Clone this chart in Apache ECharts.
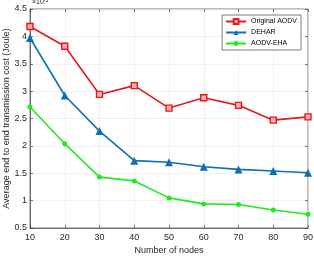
<!DOCTYPE html>
<html>
<head>
<meta charset="utf-8">
<script src="https://cdn.jsdelivr.net/npm/echarts@6/dist/echarts.min.js"></script>
<style>
  html, body { margin: 0; padding: 0; background: #fff; }
  #main { width: 314px; height: 257px; }
</style>
</head>
<body>
<div id="main"></div>
<script>
// data (y in units of 1e-3 Joule)
var nodes = [10, 20, 30, 40, 50, 60, 70, 80, 90];
var aodv = [4.18, 3.82, 2.94, 3.10, 2.69, 2.88, 2.74, 2.47, 2.53];
var dehar = [3.97, 2.92, 2.27, 1.73, 1.70, 1.62, 1.57, 1.54, 1.51];
var eha = [2.71, 2.04, 1.43, 1.36, 1.05, 0.94, 0.93, 0.83, 0.75];
var yTicks = [0.5, 1, 1.5, 2, 2.5, 3, 3.5, 4, 4.5];

var chart = echarts.init(document.getElementById('main'));

function pairs(arr) {
  return arr.map(function (v, i) { return [nodes[i], v]; });
}

var txt = '#262626';
var font = 'Liberation Sans';

var option = {
  backgroundColor: '#ffffff',
  animation: false,
  textStyle: { fontFamily: font },
  grid: {
    left: 30, right: 6, top: 9, bottom: 29, show: true,
    borderColor: txt, borderWidth: 0.6, outerBoundsMode: 'none', containLabel: false
  },
  graphic: [{
    type: 'text', left: 32, top: -2,
    style: {
      text: '{a|×10}{b|-3}',
      rich: {
        a: { fontSize: 7, fill: txt, fontFamily: font },
        b: { fontSize: 5, fill: txt, fontFamily: font, verticalAlign: 'top', padding: [0, 0, 4, 0] }
      }
    }
  }],
  legend: {
    right: 13, top: 15, orient: 'vertical',
    itemWidth: 20, itemHeight: 6, itemGap: 4,
    backgroundColor: '#fff', borderColor: txt, borderWidth: 0.6,
    padding: [3, 4, 3, 3],
    textStyle: { fontSize: 7, color: '#000', fontFamily: font },
    data: ['Original AODV', 'DEHAR', 'AODV-EHA']
  },
  xAxis: [{
    type: 'value', min: 10, max: 90, interval: 10,
    name: 'Number of nodes', nameLocation: 'middle', nameGap: 18, nameMoveOverlap: false,
    nameTextStyle: { fontSize: 9, color: txt },
    axisLine: { lineStyle: { color: txt, width: 0.6 } },
    axisTick: { inside: true, length: 3, lineStyle: { color: txt, width: 0.6 } },
    axisLabel: { fontSize: 9, color: txt, margin: 5 },
    splitLine: { show: true, lineStyle: { color: '#e6e6e6', width: 0.6 } }
  }, {
    type: 'value', position: 'top', min: 10, max: 90, interval: 10,
    axisLine: { show: false },
    axisTick: { inside: true, length: 3, lineStyle: { color: txt, width: 0.6 } },
    axisLabel: { show: false }, splitLine: { show: false }
  }],
  yAxis: [{
    type: 'value', min: 0.5, max: 4.5, interval: 0.5,
    name: 'Average end to end transmission cost (Joule)', nameLocation: 'middle',
    nameGap: 19, nameMoveOverlap: false,
    nameTextStyle: { fontSize: 9, color: txt },
    axisLine: { show: true, lineStyle: { color: txt, width: 0.6 } },
    axisTick: { show: true, inside: true, length: 3, lineStyle: { color: txt, width: 0.6 } },
    axisLabel: {
      fontSize: 9, color: txt, margin: 3,
      formatter: function (v) { return yTicks.indexOf(v) >= 0 ? String(v) : ''; }
    },
    splitLine: { show: true, lineStyle: { color: '#e6e6e6', width: 0.6 } }
  }, {
    type: 'value', position: 'right', min: 0.5, max: 4.5, interval: 0.5,
    axisLine: { show: false },
    axisTick: { show: true, inside: true, length: 3, lineStyle: { color: txt, width: 0.6 } },
    axisLabel: { show: false }, splitLine: { show: false }
  }],
  series: [{
    name: 'Original AODV', type: 'line', data: pairs(aodv),
    symbol: 'rect', symbolSize: 6,
    lineStyle: { color: '#e31a1c', width: 1.6 },
    itemStyle: { color: '#ffb0b0', borderColor: '#e31a1c', borderWidth: 1.4 }
  }, {
    name: 'DEHAR', type: 'line', data: pairs(dehar),
    symbol: 'triangle', symbolSize: 8,
    lineStyle: { color: '#0e6fb3', width: 1.6 },
    itemStyle: { color: '#0e6fb3' }
  }, {
    name: 'AODV-EHA', type: 'line', data: pairs(eha),
    symbol: 'circle', symbolSize: 5,
    lineStyle: { color: '#22e822', width: 1.6 },
    itemStyle: { color: '#22e822' }
  }]
};

chart.setOption(option);
</script>
</body>
</html>
